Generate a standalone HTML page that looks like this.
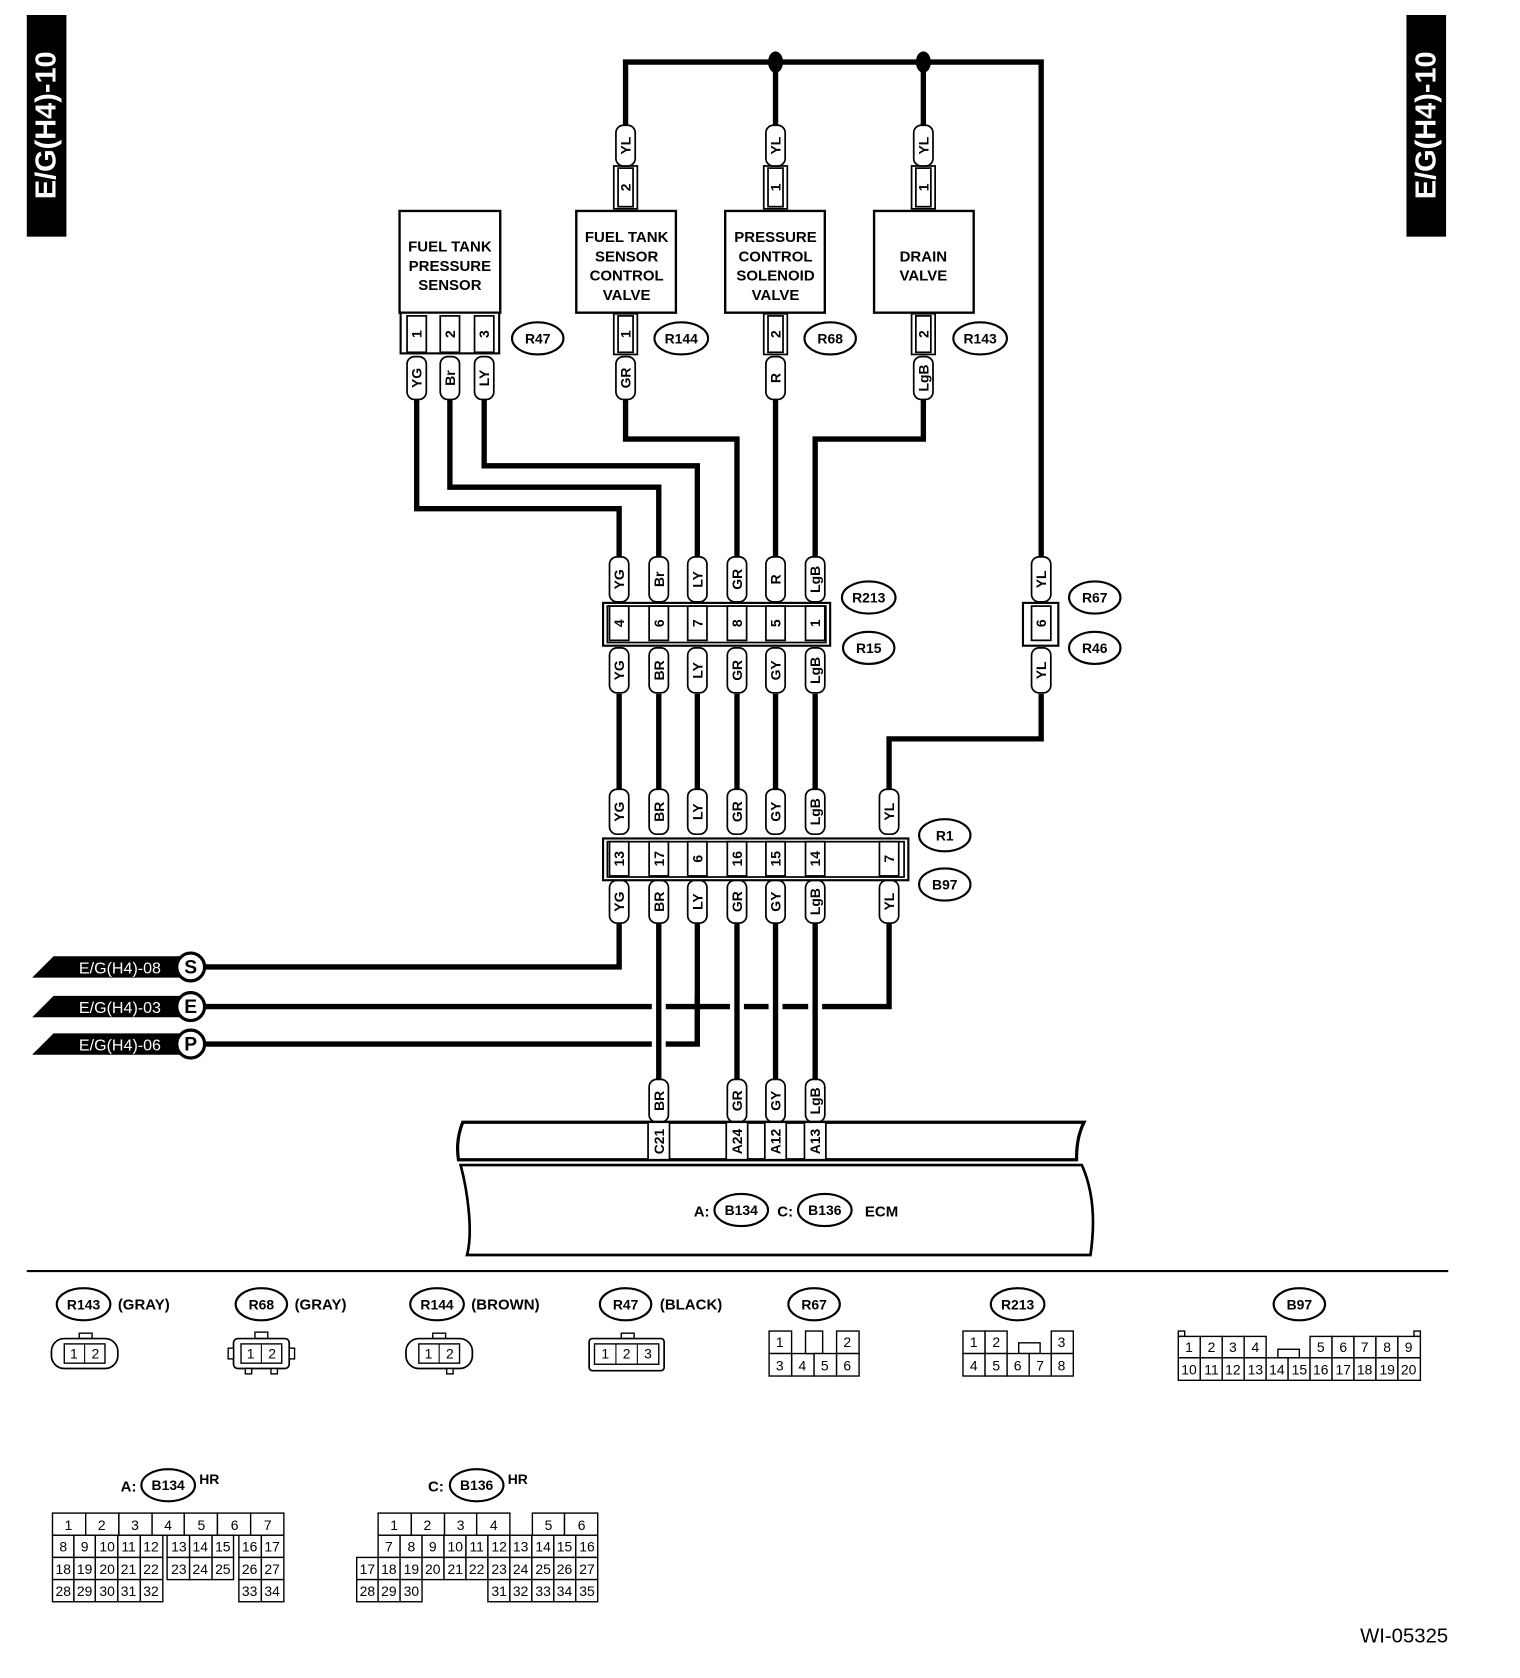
<!DOCTYPE html>
<html><head><meta charset="utf-8"><style>
html,body{margin:0;padding:0;background:#fff;}
svg{display:block;}
text{font-family:"Liberation Sans",Arial,sans-serif;fill:#000;}
.w{fill:none;stroke:#000;stroke-width:5;}
.pl rect{fill:#fff;stroke:#000;stroke-width:1.6;}
.pl text{font-size:13px;font-weight:bold;text-anchor:middle;dominant-baseline:central;}
.co ellipse{fill:#fff;stroke:#000;stroke-width:2;}
.co text{font-size:13px;font-weight:bold;text-anchor:middle;dominant-baseline:central;}
.g rect{fill:#fff;stroke:#000;stroke-width:1.3;}
.g text{font-size:13px;text-anchor:middle;dominant-baseline:central;}
.cb{font-size:14px;font-weight:bold;text-anchor:middle;}
</style></head><body>
<svg width="1520" height="1678" viewBox="0 0 1419 1567" preserveAspectRatio="none" xmlns="http://www.w3.org/2000/svg">
<rect x="25" y="14" width="37" height="207" fill="#000"/>
<text transform="translate(52,117) rotate(-90)" text-anchor="middle" font-size="27" font-weight="bold" style="fill:#fff">E/G(H4)-10</text>
<rect x="1313" y="14" width="37" height="207" fill="#000"/>
<text transform="translate(1340,117) rotate(-90)" text-anchor="middle" font-size="27" font-weight="bold" style="fill:#fff">E/G(H4)-10</text>

<path class="w" d="M584 118 V58 H972 V520"/>
<path class="w" d="M724 58 V118 M862 58 V118"/>
<ellipse cx="724" cy="58" rx="7" ry="10"/>
<ellipse cx="862" cy="58" rx="7" ry="10"/>

<path class="w" d="M389 373 V475 H578 V520"/>
<path class="w" d="M420 373 V455 H615 V520"/>
<path class="w" d="M452 373 V435 H651 V520"/>
<path class="w" d="M584 373 V410 H688 V520"/>
<path class="w" d="M724 373 V520"/>
<path class="w" d="M862 373 V410 H761 V520"/>
<path class="w" d="M578 648 V737 M615 648 V737 M651 648 V737 M688 648 V737 M724 648 V737 M761 648 V737"/>
<path class="w" d="M972 648 V690 H830 V737"/>

<path class="w" d="M578 862 V903 H190"/>
<path class="w" d="M830 862 V940 H190"/>
<path class="w" d="M651 862 V975 H190"/>
<path d="M615 862 V1008 M688 862 V1008 M724 862 V1008 M761 862 V1008" stroke="#fff" stroke-width="13" fill="none"/>
<path class="w" d="M615 862 V1008 M688 862 V1008 M724 862 V1008 M761 862 V1008"/>
<path class="w" d="M651 930 V975"/>

<g fill="#fff" stroke="#000" stroke-width="2.2">
<rect x="373" y="197" width="94" height="95"/>
<rect x="538" y="197" width="93" height="95"/>
<rect x="677" y="197" width="93" height="95"/>
<rect x="816" y="197" width="93" height="95"/>
</g>
<text class="cb" x="420" y="235">FUEL TANK</text><text class="cb" x="420" y="253">PRESSURE</text><text class="cb" x="420" y="271">SENSOR</text>
<text class="cb" x="585" y="226">FUEL TANK</text><text class="cb" x="585" y="244">SENSOR</text><text class="cb" x="585" y="262">CONTROL</text><text class="cb" x="585" y="280">VALVE</text>
<text class="cb" x="724" y="226">PRESSURE</text><text class="cb" x="724" y="244">CONTROL</text><text class="cb" x="724" y="262">SOLENOID</text><text class="cb" x="724" y="280">VALVE</text>
<text class="cb" x="862" y="244">DRAIN</text><text class="cb" x="862" y="262">VALVE</text>

<g class="pl">
<rect x="374" y="292" width="92" height="38" style="stroke-width:2"/>
<g transform="translate(584,175)"><rect x="-11" y="-20" width="22" height="40" rx="0"/><rect x="-7" y="-18" width="14" height="36"/><text transform="rotate(-90)">2</text></g>
<g transform="translate(724,175)"><rect x="-11" y="-20" width="22" height="40" rx="0"/><rect x="-7" y="-18" width="14" height="36"/><text transform="rotate(-90)">1</text></g>
<g transform="translate(862,175)"><rect x="-11" y="-20" width="22" height="40" rx="0"/><rect x="-7" y="-18" width="14" height="36"/><text transform="rotate(-90)">1</text></g>
<g transform="translate(389,312)"><rect x="-9" y="-17" width="18" height="34"/><text transform="rotate(-90)">1</text></g>
<g transform="translate(420,312)"><rect x="-9" y="-17" width="18" height="34"/><text transform="rotate(-90)">2</text></g>
<g transform="translate(452,312)"><rect x="-9" y="-17" width="18" height="34"/><text transform="rotate(-90)">3</text></g>
<g transform="translate(584,312)"><rect x="-11" y="-19" width="22" height="38"/><rect x="-7" y="-17" width="14" height="34"/><text transform="rotate(-90)">1</text></g>
<g transform="translate(724,312)"><rect x="-11" y="-19" width="22" height="38"/><rect x="-7" y="-17" width="14" height="34"/><text transform="rotate(-90)">2</text></g>
<g transform="translate(862,312)"><rect x="-11" y="-19" width="22" height="38"/><rect x="-7" y="-17" width="14" height="34"/><text transform="rotate(-90)">2</text></g>
</g>

<g class="pl">
<g transform="translate(584,136)"><rect x="-9" y="-19" width="18" height="38" rx="7"/><text transform="rotate(-90)">YL</text></g>
<g transform="translate(724,136)"><rect x="-9" y="-19" width="18" height="38" rx="7"/><text transform="rotate(-90)">YL</text></g>
<g transform="translate(862,136)"><rect x="-9" y="-19" width="18" height="38" rx="7"/><text transform="rotate(-90)">YL</text></g>
<g transform="translate(389,353)"><rect x="-9" y="-20" width="18" height="40" rx="7"/><text transform="rotate(-90)">YG</text></g>
<g transform="translate(420,353)"><rect x="-9" y="-20" width="18" height="40" rx="7"/><text transform="rotate(-90)">Br</text></g>
<g transform="translate(452,353)"><rect x="-9" y="-20" width="18" height="40" rx="7"/><text transform="rotate(-90)">LY</text></g>
<g transform="translate(584,353)"><rect x="-9" y="-20" width="18" height="40" rx="7"/><text transform="rotate(-90)">GR</text></g>
<g transform="translate(724,353)"><rect x="-9" y="-20" width="18" height="40" rx="7"/><text transform="rotate(-90)">R</text></g>
<g transform="translate(862,353)"><rect x="-9" y="-20" width="18" height="40" rx="7"/><text transform="rotate(-90)">LgB</text></g>

<g transform="translate(578,541)"><rect x="-9" y="-21" width="18" height="42" rx="7"/><text transform="rotate(-90)">YG</text></g>
<g transform="translate(615,541)"><rect x="-9" y="-21" width="18" height="42" rx="7"/><text transform="rotate(-90)">Br</text></g>
<g transform="translate(651,541)"><rect x="-9" y="-21" width="18" height="42" rx="7"/><text transform="rotate(-90)">LY</text></g>
<g transform="translate(688,541)"><rect x="-9" y="-21" width="18" height="42" rx="7"/><text transform="rotate(-90)">GR</text></g>
<g transform="translate(724,541)"><rect x="-9" y="-21" width="18" height="42" rx="7"/><text transform="rotate(-90)">R</text></g>
<g transform="translate(761,541)"><rect x="-9" y="-21" width="18" height="42" rx="7"/><text transform="rotate(-90)">LgB</text></g>
<g transform="translate(972,541)"><rect x="-9" y="-21" width="18" height="42" rx="7"/><text transform="rotate(-90)">YL</text></g>

<g transform="translate(578,626)"><rect x="-9" y="-21" width="18" height="42" rx="7"/><text transform="rotate(-90)">YG</text></g>
<g transform="translate(615,626)"><rect x="-9" y="-21" width="18" height="42" rx="7"/><text transform="rotate(-90)">BR</text></g>
<g transform="translate(651,626)"><rect x="-9" y="-21" width="18" height="42" rx="7"/><text transform="rotate(-90)">LY</text></g>
<g transform="translate(688,626)"><rect x="-9" y="-21" width="18" height="42" rx="7"/><text transform="rotate(-90)">GR</text></g>
<g transform="translate(724,626)"><rect x="-9" y="-21" width="18" height="42" rx="7"/><text transform="rotate(-90)">GY</text></g>
<g transform="translate(761,626)"><rect x="-9" y="-21" width="18" height="42" rx="7"/><text transform="rotate(-90)">LgB</text></g>
<g transform="translate(972,626)"><rect x="-9" y="-21" width="18" height="42" rx="7"/><text transform="rotate(-90)">YL</text></g>

<g transform="translate(578,758)"><rect x="-9" y="-21" width="18" height="42" rx="7"/><text transform="rotate(-90)">YG</text></g>
<g transform="translate(615,758)"><rect x="-9" y="-21" width="18" height="42" rx="7"/><text transform="rotate(-90)">BR</text></g>
<g transform="translate(651,758)"><rect x="-9" y="-21" width="18" height="42" rx="7"/><text transform="rotate(-90)">LY</text></g>
<g transform="translate(688,758)"><rect x="-9" y="-21" width="18" height="42" rx="7"/><text transform="rotate(-90)">GR</text></g>
<g transform="translate(724,758)"><rect x="-9" y="-21" width="18" height="42" rx="7"/><text transform="rotate(-90)">GY</text></g>
<g transform="translate(761,758)"><rect x="-9" y="-21" width="18" height="42" rx="7"/><text transform="rotate(-90)">LgB</text></g>
<g transform="translate(830,758)"><rect x="-9" y="-21" width="18" height="42" rx="7"/><text transform="rotate(-90)">YL</text></g>

<g transform="translate(578,842)"><rect x="-9" y="-20" width="18" height="40" rx="7"/><text transform="rotate(-90)">YG</text></g>
<g transform="translate(615,842)"><rect x="-9" y="-20" width="18" height="40" rx="7"/><text transform="rotate(-90)">BR</text></g>
<g transform="translate(651,842)"><rect x="-9" y="-20" width="18" height="40" rx="7"/><text transform="rotate(-90)">LY</text></g>
<g transform="translate(688,842)"><rect x="-9" y="-20" width="18" height="40" rx="7"/><text transform="rotate(-90)">GR</text></g>
<g transform="translate(724,842)"><rect x="-9" y="-20" width="18" height="40" rx="7"/><text transform="rotate(-90)">GY</text></g>
<g transform="translate(761,842)"><rect x="-9" y="-20" width="18" height="40" rx="7"/><text transform="rotate(-90)">LgB</text></g>
<g transform="translate(830,842)"><rect x="-9" y="-20" width="18" height="40" rx="7"/><text transform="rotate(-90)">YL</text></g>

<g transform="translate(615,1028)"><rect x="-9" y="-20" width="18" height="40" rx="7"/><text transform="rotate(-90)">BR</text></g>
<g transform="translate(688,1028)"><rect x="-9" y="-20" width="18" height="40" rx="7"/><text transform="rotate(-90)">GR</text></g>
<g transform="translate(724,1028)"><rect x="-9" y="-20" width="18" height="40" rx="7"/><text transform="rotate(-90)">GY</text></g>
<g transform="translate(761,1028)"><rect x="-9" y="-20" width="18" height="40" rx="7"/><text transform="rotate(-90)">LgB</text></g>
</g>

<g class="pl">
<rect x="563" y="563" width="212" height="40" style="stroke-width:2"/>
<rect x="567" y="566" width="204" height="34"/>
<g transform="translate(578,582)"><rect x="-9" y="-16" width="18" height="32"/><text transform="rotate(-90)">4</text></g>
<g transform="translate(615,582)"><rect x="-9" y="-16" width="18" height="32"/><text transform="rotate(-90)">6</text></g>
<g transform="translate(651,582)"><rect x="-9" y="-16" width="18" height="32"/><text transform="rotate(-90)">7</text></g>
<g transform="translate(688,582)"><rect x="-9" y="-16" width="18" height="32"/><text transform="rotate(-90)">8</text></g>
<g transform="translate(724,582)"><rect x="-9" y="-16" width="18" height="32"/><text transform="rotate(-90)">5</text></g>
<g transform="translate(761,582)"><rect x="-9" y="-16" width="18" height="32"/><text transform="rotate(-90)">1</text></g>
<rect x="955" y="563" width="33" height="40" style="stroke-width:2"/>
<g transform="translate(972,582)"><rect x="-9" y="-16" width="18" height="32"/><text transform="rotate(-90)">6</text></g>
<rect x="563" y="783" width="285" height="39" style="stroke-width:2"/>
<rect x="567" y="786" width="277" height="33"/>
<g transform="translate(578,802)"><rect x="-9" y="-16" width="18" height="32"/><text transform="rotate(-90)">13</text></g>
<g transform="translate(615,802)"><rect x="-9" y="-16" width="18" height="32"/><text transform="rotate(-90)">17</text></g>
<g transform="translate(651,802)"><rect x="-9" y="-16" width="18" height="32"/><text transform="rotate(-90)">6</text></g>
<g transform="translate(688,802)"><rect x="-9" y="-16" width="18" height="32"/><text transform="rotate(-90)">16</text></g>
<g transform="translate(724,802)"><rect x="-9" y="-16" width="18" height="32"/><text transform="rotate(-90)">15</text></g>
<g transform="translate(761,802)"><rect x="-9" y="-16" width="18" height="32"/><text transform="rotate(-90)">14</text></g>
<g transform="translate(830,802)"><rect x="-9" y="-16" width="18" height="32"/><text transform="rotate(-90)">7</text></g>
</g>

<g class="co">
<g transform="translate(502,316)"><ellipse rx="24" ry="15"/><text>R47</text></g>
<g transform="translate(636,316)"><ellipse rx="25" ry="15"/><text>R144</text></g>
<g transform="translate(775,316)"><ellipse rx="24" ry="15"/><text>R68</text></g>
<g transform="translate(915,316)"><ellipse rx="25" ry="15"/><text>R143</text></g>
<g transform="translate(811,558)"><ellipse rx="25" ry="15"/><text>R213</text></g>
<g transform="translate(811,605)"><ellipse rx="24" ry="15"/><text>R15</text></g>
<g transform="translate(1022,558)"><ellipse rx="24" ry="15"/><text>R67</text></g>
<g transform="translate(1022,605)"><ellipse rx="24" ry="15"/><text>R46</text></g>
<g transform="translate(882,780)"><ellipse rx="24" ry="15"/><text>R1</text></g>
<g transform="translate(882,826)"><ellipse rx="24" ry="15"/><text>B97</text></g>
</g>

<g>
<polygon points="30,913 50,893 170,893 170,913" fill="#000"/>
<text x="112" y="909" text-anchor="middle" font-size="15" style="fill:#fff">E/G(H4)-08</text>
<circle cx="178" cy="903" r="13" fill="#fff" stroke="#000" stroke-width="3"/>
<text x="178" y="909" text-anchor="middle" font-size="18" font-weight="bold">S</text>
<polygon points="30,950 50,930 170,930 170,950" fill="#000"/>
<text x="112" y="946" text-anchor="middle" font-size="15" style="fill:#fff">E/G(H4)-03</text>
<circle cx="178" cy="940" r="13" fill="#fff" stroke="#000" stroke-width="3"/>
<text x="178" y="946" text-anchor="middle" font-size="18" font-weight="bold">E</text>
<polygon points="30,985 50,965 170,965 170,985" fill="#000"/>
<text x="112" y="981" text-anchor="middle" font-size="15" style="fill:#fff">E/G(H4)-06</text>
<circle cx="178" cy="975" r="13" fill="#fff" stroke="#000" stroke-width="3"/>
<text x="178" y="981" text-anchor="middle" font-size="18" font-weight="bold">P</text>
</g>

<path d="M432 1048 H1012 C1006 1060,1005 1072,1005 1083 H428 C426 1070,428 1058,432 1048 Z" fill="#fff" stroke="#000" stroke-width="3"/>
<g class="pl">
<g transform="translate(615,1066)"><rect x="-10" y="-18" width="20" height="35"/><text transform="rotate(-90)">C21</text></g>
<g transform="translate(688,1066)"><rect x="-10" y="-18" width="20" height="35"/><text transform="rotate(-90)">A24</text></g>
<g transform="translate(724,1066)"><rect x="-10" y="-18" width="20" height="35"/><text transform="rotate(-90)">A12</text></g>
<g transform="translate(761,1066)"><rect x="-10" y="-18" width="20" height="35"/><text transform="rotate(-90)">A13</text></g>
</g>
<path d="M430 1088 H1010 C1022 1115,1022 1145,1018 1172 H436 C442 1150,436 1110,430 1088 Z" fill="#fff" stroke="#000" stroke-width="2.5"/>
<text x="655" y="1136" text-anchor="middle" font-size="14" font-weight="bold">A:</text>
<g class="co"><g transform="translate(692,1130)"><ellipse rx="25" ry="15"/><text>B134</text></g>
<g transform="translate(770,1130)"><ellipse rx="25" ry="15"/><text>B136</text></g></g>
<text x="733" y="1136" text-anchor="middle" font-size="14" font-weight="bold">C:</text>
<text x="823" y="1136" text-anchor="middle" font-size="14" font-weight="bold">ECM</text>

<line x1="25" y1="1187" x2="1352" y2="1187" stroke="#000" stroke-width="2"/>

<g class="co">
<g transform="translate(78,1218)"><ellipse rx="25" ry="15"/><text>R143</text></g>
<g transform="translate(244,1218)"><ellipse rx="24" ry="15"/><text>R68</text></g>
<g transform="translate(408,1218)"><ellipse rx="25" ry="15"/><text>R144</text></g>
<g transform="translate(584,1218)"><ellipse rx="24" ry="15"/><text>R47</text></g>
<g transform="translate(760,1218)"><ellipse rx="24" ry="15"/><text>R67</text></g>
<g transform="translate(950,1218)"><ellipse rx="25" ry="15"/><text>R213</text></g>
<g transform="translate(1213,1218)"><ellipse rx="24" ry="15"/><text>B97</text></g>
</g>
<g font-size="14" font-weight="bold">
<text x="110" y="1223">(GRAY)</text>
<text x="275" y="1223">(GRAY)</text>
<text x="440" y="1223">(BROWN)</text>
<text x="616" y="1223">(BLACK)</text>
</g>

<g class="g">
<rect x="74" y="1245" width="12" height="5"/>
<rect x="48" y="1250" width="62" height="28" rx="12" style="stroke-width:1.6"/>
<rect x="60" y="1255" width="38" height="18"/><line x1="79" y1="1255" x2="79" y2="1273" stroke="#000"/>
<text x="69" y="1264">1</text><text x="89" y="1264">2</text>
<rect x="238" y="1244" width="12" height="6"/>
<rect x="218" y="1250" width="52" height="28" rx="4" style="stroke-width:1.6"/>
<rect x="213" y="1259" width="5" height="10"/><rect x="270" y="1259" width="5" height="10"/>
<rect x="229" y="1278" width="6" height="5"/><rect x="253" y="1278" width="6" height="5"/>
<rect x="225" y="1255" width="38" height="18"/><line x1="244" y1="1255" x2="244" y2="1273" stroke="#000"/>
<text x="234" y="1264">1</text><text x="254" y="1264">2</text>
<rect x="404" y="1245" width="12" height="5"/>
<rect x="379" y="1250" width="62" height="28" rx="12" style="stroke-width:1.6"/>
<rect x="417" y="1278" width="6" height="5"/>
<rect x="391" y="1255" width="38" height="18"/><line x1="410" y1="1255" x2="410" y2="1273" stroke="#000"/>
<text x="400" y="1264">1</text><text x="420" y="1264">2</text>
<rect x="580" y="1245" width="12" height="5"/>
<rect x="550" y="1250" width="70" height="30" rx="3" style="stroke-width:1.6"/>
<rect x="555" y="1255" width="60" height="19"/>
<line x1="575" y1="1255" x2="575" y2="1274" stroke="#000"/><line x1="595" y1="1255" x2="595" y2="1274" stroke="#000"/>
<text x="565" y="1264">1</text><text x="585" y="1264">2</text><text x="605" y="1264">3</text>
</g>

<g class="g">
<rect x="718" y="1243" width="21" height="21"/><text x="728" y="1253">1</text>
<rect x="739" y="1264" width="21" height="21"/><text x="749" y="1275">4</text>
<rect x="752" y="1243" width="16" height="21"/>
<rect x="781" y="1243" width="21" height="21"/><text x="791" y="1253">2</text>
<rect x="718" y="1264" width="21" height="21"/><text x="728" y="1275">3</text>
<rect x="760" y="1264" width="21" height="21"/><text x="770" y="1275">5</text>
<rect x="781" y="1264" width="21" height="21"/><text x="791" y="1275">6</text>
<rect x="899" y="1243" width="20.6" height="21"/><text x="909" y="1253">1</text>
<rect x="919.6" y="1243" width="20.6" height="21"/><text x="930" y="1253">2</text>
<rect x="981.4" y="1243" width="20.6" height="21"/><text x="991" y="1253">3</text>
<rect x="951" y="1254" width="20" height="10"/>
<rect x="899" y="1264" width="20.6" height="21"/><text x="909" y="1275">4</text>
<rect x="919.6" y="1264" width="20.6" height="21"/><text x="930" y="1275">5</text>
<rect x="940.2" y="1264" width="20.6" height="21"/><text x="950" y="1275">6</text>
<rect x="960.8" y="1264" width="20.6" height="21"/><text x="971" y="1275">7</text>
<rect x="981.4" y="1264" width="20.6" height="21"/><text x="991" y="1275">8</text>
<rect x="1100" y="1243" width="6" height="5"/><rect x="1320" y="1243" width="6" height="5"/>
<rect x="1100" y="1248" width="20.5" height="20"/><text x="1110" y="1258">1</text>
<rect x="1120.5" y="1248" width="20.5" height="20"/><text x="1131" y="1258">2</text>
<rect x="1141" y="1248" width="20.5" height="20"/><text x="1151" y="1258">3</text>
<rect x="1161.5" y="1248" width="20.5" height="20"/><text x="1172" y="1258">4</text>
<rect x="1193" y="1260" width="20" height="8"/>
<rect x="1223" y="1248" width="20.5" height="20"/><text x="1233" y="1258">5</text>
<rect x="1243.5" y="1248" width="20.5" height="20"/><text x="1254" y="1258">6</text>
<rect x="1264" y="1248" width="20.5" height="20"/><text x="1274" y="1258">7</text>
<rect x="1284.5" y="1248" width="20.5" height="20"/><text x="1295" y="1258">8</text>
<rect x="1305" y="1248" width="21" height="20"/><text x="1315" y="1258">9</text>
<rect x="1100" y="1268" width="20.5" height="21"/><text x="1110" y="1279">10</text>
<rect x="1120.5" y="1268" width="20.5" height="21"/><text x="1131" y="1279">11</text>
<rect x="1141" y="1268" width="20.5" height="21"/><text x="1151" y="1279">12</text>
<rect x="1161.5" y="1268" width="20.5" height="21"/><text x="1172" y="1279">13</text>
<rect x="1182" y="1268" width="20.5" height="21"/><text x="1192" y="1279">14</text>
<rect x="1202.5" y="1268" width="20.5" height="21"/><text x="1213" y="1279">15</text>
<rect x="1223" y="1268" width="20.5" height="21"/><text x="1233" y="1279">16</text>
<rect x="1243.5" y="1268" width="20.5" height="21"/><text x="1254" y="1279">17</text>
<rect x="1264" y="1268" width="20.5" height="21"/><text x="1274" y="1279">18</text>
<rect x="1284.5" y="1268" width="20.5" height="21"/><text x="1295" y="1279">19</text>
<rect x="1305" y="1268" width="21" height="21"/><text x="1315" y="1279">20</text>
</g>

<text x="120" y="1393" text-anchor="middle" font-size="14" font-weight="bold">A:</text>
<g class="co"><g transform="translate(157,1387)"><ellipse rx="25" ry="15"/><text>B134</text></g></g>
<text x="186" y="1386" font-size="13" font-weight="bold">HR</text>
<g class="g">
<rect x="49" y="1413" width="31" height="20.7"/><text x="64" y="1424">1</text>
<rect x="80" y="1413" width="31" height="20.7"/><text x="95" y="1424">2</text>
<rect x="111" y="1413" width="31" height="20.7"/><text x="126" y="1424">3</text>
<rect x="142" y="1413" width="30" height="20.7"/><text x="157" y="1424">4</text>
<rect x="172" y="1413" width="31" height="20.7"/><text x="188" y="1424">5</text>
<rect x="203" y="1413" width="31" height="20.7"/><text x="219" y="1424">6</text>
<rect x="234" y="1413" width="31" height="20.7"/><text x="250" y="1424">7</text>
</g>
<g class="g" font-size="12">
<rect x="49" y="1433.7" width="20" height="20.7"/><text x="59" y="1444">8</text>
<rect x="69" y="1433.7" width="20" height="20.7"/><text x="79" y="1444">9</text>
<rect x="89" y="1433.7" width="21" height="20.7"/><text x="100" y="1444">10</text>
<rect x="110" y="1433.7" width="21" height="20.7"/><text x="120" y="1444">11</text>
<rect x="131" y="1433.7" width="21" height="20.7"/><text x="141" y="1444">12</text>
<rect x="156" y="1433.7" width="21" height="20.7"/><text x="167" y="1444">13</text>
<rect x="177" y="1433.7" width="21" height="20.7"/><text x="187" y="1444">14</text>
<rect x="198" y="1433.7" width="20" height="20.7"/><text x="208" y="1444">15</text>
<rect x="223" y="1433.7" width="21" height="20.7"/><text x="233" y="1444">16</text>
<rect x="244" y="1433.7" width="21" height="20.7"/><text x="254" y="1444">17</text>
<rect x="49" y="1454.4" width="20" height="20.7"/><text x="59" y="1465">18</text>
<rect x="69" y="1454.4" width="20" height="20.7"/><text x="79" y="1465">19</text>
<rect x="89" y="1454.4" width="21" height="20.7"/><text x="100" y="1465">20</text>
<rect x="110" y="1454.4" width="21" height="20.7"/><text x="120" y="1465">21</text>
<rect x="131" y="1454.4" width="21" height="20.7"/><text x="141" y="1465">22</text>
<rect x="156" y="1454.4" width="21" height="20.7"/><text x="167" y="1465">23</text>
<rect x="177" y="1454.4" width="21" height="20.7"/><text x="187" y="1465">24</text>
<rect x="198" y="1454.4" width="20" height="20.7"/><text x="208" y="1465">25</text>
<rect x="223" y="1454.4" width="21" height="20.7"/><text x="233" y="1465">26</text>
<rect x="244" y="1454.4" width="21" height="20.7"/><text x="254" y="1465">27</text>
<rect x="49" y="1475.1" width="20" height="20.7"/><text x="59" y="1486">28</text>
<rect x="69" y="1475.1" width="20" height="20.7"/><text x="79" y="1486">29</text>
<rect x="89" y="1475.1" width="21" height="20.7"/><text x="100" y="1486">30</text>
<rect x="110" y="1475.1" width="21" height="20.7"/><text x="120" y="1486">31</text>
<rect x="131" y="1475.1" width="21" height="20.7"/><text x="141" y="1486">32</text>
<rect x="223" y="1475.1" width="21" height="20.7"/><text x="233" y="1486">33</text>
<rect x="244" y="1475.1" width="21" height="20.7"/><text x="254" y="1486">34</text>
</g>

<text x="407" y="1393" text-anchor="middle" font-size="14" font-weight="bold">C:</text>
<g class="co"><g transform="translate(445,1387)"><ellipse rx="25" ry="15"/><text>B136</text></g></g>
<text x="474" y="1386" font-size="13" font-weight="bold">HR</text>
<g class="g">
<rect x="353" y="1413" width="31" height="20.7"/><text x="368" y="1424">1</text>
<rect x="384" y="1413" width="31" height="20.7"/><text x="399" y="1424">2</text>
<rect x="415" y="1413" width="30" height="20.7"/><text x="430" y="1424">3</text>
<rect x="445" y="1413" width="31" height="20.7"/><text x="461" y="1424">4</text>
<rect x="497" y="1413" width="30" height="20.7"/><text x="512" y="1424">5</text>
<rect x="527" y="1413" width="31" height="20.7"/><text x="543" y="1424">6</text>
</g>
<g class="g" font-size="12">
<rect x="353" y="1433.7" width="20.5" height="20.7"/><text x="363" y="1444">7</text>
<rect x="373.5" y="1433.7" width="20.5" height="20.7"/><text x="384" y="1444">8</text>
<rect x="394" y="1433.7" width="20.5" height="20.7"/><text x="404" y="1444">9</text>
<rect x="414.5" y="1433.7" width="20.5" height="20.7"/><text x="425" y="1444">10</text>
<rect x="435" y="1433.7" width="20.5" height="20.7"/><text x="445" y="1444">11</text>
<rect x="455.5" y="1433.7" width="20.5" height="20.7"/><text x="466" y="1444">12</text>
<rect x="476" y="1433.7" width="20.5" height="20.7"/><text x="486" y="1444">13</text>
<rect x="496.5" y="1433.7" width="20.5" height="20.7"/><text x="507" y="1444">14</text>
<rect x="517" y="1433.7" width="20.5" height="20.7"/><text x="527" y="1444">15</text>
<rect x="537.5" y="1433.7" width="20.5" height="20.7"/><text x="548" y="1444">16</text>
<rect x="333" y="1454.4" width="20" height="20.7"/><text x="343" y="1465">17</text>
<rect x="353" y="1454.4" width="20.5" height="20.7"/><text x="363" y="1465">18</text>
<rect x="373.5" y="1454.4" width="20.5" height="20.7"/><text x="384" y="1465">19</text>
<rect x="394" y="1454.4" width="20.5" height="20.7"/><text x="404" y="1465">20</text>
<rect x="414.5" y="1454.4" width="20.5" height="20.7"/><text x="425" y="1465">21</text>
<rect x="435" y="1454.4" width="20.5" height="20.7"/><text x="445" y="1465">22</text>
<rect x="455.5" y="1454.4" width="20.5" height="20.7"/><text x="466" y="1465">23</text>
<rect x="476" y="1454.4" width="20.5" height="20.7"/><text x="486" y="1465">24</text>
<rect x="496.5" y="1454.4" width="20.5" height="20.7"/><text x="507" y="1465">25</text>
<rect x="517" y="1454.4" width="20.5" height="20.7"/><text x="527" y="1465">26</text>
<rect x="537.5" y="1454.4" width="20.5" height="20.7"/><text x="548" y="1465">27</text>
<rect x="333" y="1475.1" width="20" height="20.7"/><text x="343" y="1486">28</text>
<rect x="353" y="1475.1" width="20.5" height="20.7"/><text x="363" y="1486">29</text>
<rect x="373.5" y="1475.1" width="20.5" height="20.7"/><text x="384" y="1486">30</text>
<rect x="455.5" y="1475.1" width="20.5" height="20.7"/><text x="466" y="1486">31</text>
<rect x="476" y="1475.1" width="20.5" height="20.7"/><text x="486" y="1486">32</text>
<rect x="496.5" y="1475.1" width="20.5" height="20.7"/><text x="507" y="1486">33</text>
<rect x="517" y="1475.1" width="20.5" height="20.7"/><text x="527" y="1486">34</text>
<rect x="537.5" y="1475.1" width="20.5" height="20.7"/><text x="548" y="1486">35</text>
</g>

<text x="1352" y="1534" text-anchor="end" font-size="19">WI-05325</text>
</svg>
</body></html>
